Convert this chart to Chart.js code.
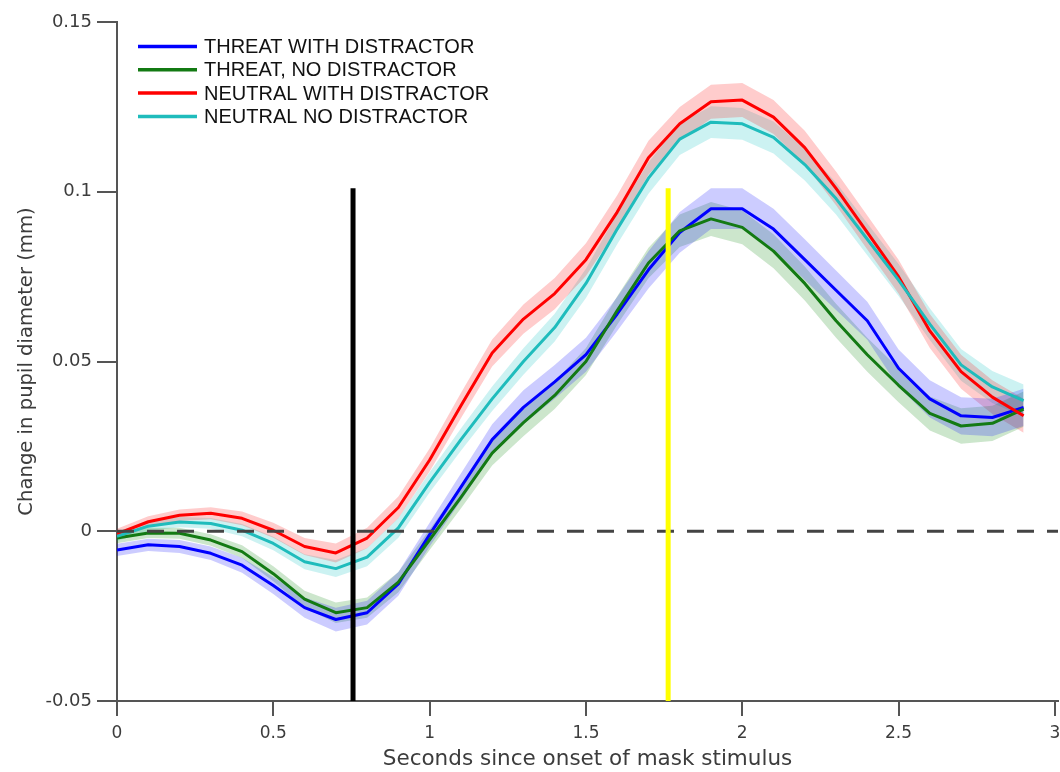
<!DOCTYPE html>
<html>
<head>
<meta charset="utf-8">
<title>Pupil diameter</title>
<script src="https://cdn.jsdelivr.net/npm/chart.js@4.4.1/dist/chart.umd.min.js"></script>
<style>
  body { margin: 0; background: #fff; }
  canvas { display: block; }
</style>
</head>
<body>
<canvas id="pupilChart" width="1060" height="772"></canvas>
<script>
// time axis (s since mask onset), one sample every 100 ms
var times = [0, 0.1, 0.2, 0.3, 0.4, 0.5, 0.6, 0.7, 0.8, 0.9, 1.0, 1.1, 1.2, 1.3, 1.4,
             1.5, 1.6, 1.7, 1.8, 1.9, 2.0, 2.1, 2.2, 2.3, 2.4, 2.5, 2.6, 2.7, 2.8, 2.9];

var seriesNames = ['THREAT WITH DISTRACTOR', 'THREAT, NO DISTRACTOR', 'NEUTRAL WITH DISTRACTOR', 'NEUTRAL NO DISTRACTOR'];

// mean change in pupil diameter (mm)
var threatWith = [-0.0055, -0.004, -0.0045, -0.0065, -0.010, -0.016, -0.0225, -0.026, -0.024, -0.0155,
                  -0.001, 0.013, 0.027, 0.0365, 0.044, 0.052, 0.064, 0.077, 0.088, 0.095,
                  0.095, 0.089, 0.080, 0.071, 0.062, 0.048, 0.039, 0.034, 0.0335, 0.0365];
var threatNo = [-0.002, -0.0005, -0.0006, -0.0026, -0.006, -0.0125, -0.020, -0.024, -0.0225, -0.015,
                -0.0025, 0.010, 0.023, 0.032, 0.040, 0.050, 0.065, 0.079, 0.0885, 0.092,
                0.0895, 0.0825, 0.073, 0.062, 0.052, 0.043, 0.0347, 0.031, 0.0318, 0.036];
var neutralWith = [-0.0008, 0.0028, 0.0047, 0.0053, 0.0038, 0.0003, -0.0045, -0.0064, -0.002, 0.007,
                   0.021, 0.037, 0.0525, 0.0625, 0.070, 0.080, 0.094, 0.110, 0.120, 0.1265,
                   0.127, 0.122, 0.113, 0.101, 0.088, 0.075, 0.059, 0.047, 0.0395, 0.034];
var neutralNo = [-0.0015, 0.0015, 0.0027, 0.0023, 0.0003, -0.0036, -0.009, -0.011, -0.0076, 0.001,
                 0.0144, 0.027, 0.039, 0.050, 0.060, 0.073, 0.089, 0.104, 0.1155, 0.1205,
                 0.120, 0.116, 0.108, 0.098, 0.086, 0.074, 0.061, 0.049, 0.0425, 0.0385];

// half width of the shaded error band
var threatWithSem = [0.0018, 0.0018, 0.0019, 0.002, 0.0022, 0.0025, 0.003, 0.0035, 0.0035, 0.0035,
                     0.0035, 0.004, 0.0045, 0.005, 0.005, 0.005, 0.005, 0.0055, 0.006, 0.006,
                     0.006, 0.006, 0.006, 0.0058, 0.0056, 0.0055, 0.0055, 0.0055, 0.0055, 0.0055];
var threatNoSem = [0.0015, 0.0015, 0.0016, 0.0017, 0.0019, 0.0022, 0.0025, 0.003, 0.003, 0.003,
                   0.003, 0.0033, 0.0036, 0.004, 0.004, 0.004, 0.0042, 0.0045, 0.0048, 0.005,
                   0.005, 0.005, 0.005, 0.005, 0.005, 0.005, 0.005, 0.0052, 0.0052, 0.0052];
var neutralWithSem = [0.0015, 0.0016, 0.0017, 0.0018, 0.002, 0.0022, 0.0025, 0.0028, 0.003, 0.0032,
                      0.0034, 0.0037, 0.004, 0.0043, 0.0046, 0.0048, 0.005, 0.005, 0.005, 0.005,
                      0.005, 0.005, 0.005, 0.005, 0.005, 0.005, 0.005, 0.005, 0.005, 0.005];
var neutralNoSem = [0.0014, 0.0014, 0.0015, 0.0016, 0.0018, 0.002, 0.0022, 0.0025, 0.0027, 0.0029,
                    0.003, 0.0033, 0.0036, 0.0039, 0.0041, 0.0043, 0.0045, 0.0046, 0.0047, 0.0047,
                    0.0047, 0.0047, 0.0047, 0.0047, 0.0047, 0.0047, 0.0047, 0.0047, 0.0047, 0.0047];

// vertical event markers and reference line
var markerTimes = [0.755, 1.763];
var markerTop = 0.101;
var zeroLevel = 0;

var xMin = 0, xMax = 3.01;
var yMin = -0.05, yMax = 0.15;
var xTickValues = [0, 0.5, 1, 1.5, 2, 2.5, 3];
var xTickLabels = ['0', '0.5', '1', '1.5', '2', '2.5', '3'];
var yTickValues = [-0.05, 0, 0.05, 0.1, 0.15];
var yTickLabels = ['-0.05', '0', '0.05', '0.1', '0.15'];

var means = [threatWith, threatNo, neutralWith, neutralNo];
var sems = [threatWithSem, threatNoSem, neutralWithSem, neutralNoSem];
var lineColors = ['#0000ff', '#137a13', '#ff0000', '#1fbcbc'];
var bandColors = ['rgba(0,0,255,0.2)', 'rgba(0,128,0,0.2)', 'rgba(255,0,0,0.2)', 'rgba(0,190,190,0.2)'];

function toPoints(values) {
    return values.map(function (v, i) { return { x: times[i], y: v }; });
}

var datasets = [];

// bands first (upper edge, then lower edge filled to the upper one)
for (var s = 0; s < means.length; s++) {
    datasets.push({
        data: toPoints(means[s].map(function (v, i) { return v + sems[s][i]; })),
        borderWidth: 0, pointRadius: 0, fill: false, order: 10
    });
    datasets.push({
        data: toPoints(means[s].map(function (v, i) { return v - sems[s][i]; })),
        borderWidth: 0, pointRadius: 0, fill: '-1', backgroundColor: bandColors[s], order: 10
    });
}

for (var s = 0; s < means.length; s++) {
    datasets.push({
        label: seriesNames[s],
        data: toPoints(means[s]),
        borderColor: lineColors[s],
        borderWidth: 3,
        borderJoinStyle: 'round',
        pointRadius: 0,
        fill: false,
        order: 4 - s
    });
}

datasets.push({
    data: [{ x: xMin, y: zeroLevel }, { x: xMax, y: zeroLevel }],
    borderColor: '#444',
    borderWidth: 3,
    borderDash: [17, 13],
    pointRadius: 0,
    fill: false,
    order: -1
});

var markerColors = ['#000000', '#ffff00'];
markerTimes.forEach(function (t, i) {
    datasets.push({
        data: [{ x: t, y: yMin }, { x: t, y: markerTop }],
        borderColor: markerColors[i],
        borderWidth: 5,
        pointRadius: 0,
        fill: false,
        order: -2
    });
});

// legend drawn inside the plot, top left
var cornerLegend = {
    id: 'cornerLegend',
    afterDraw: function (chart) {
        var ctx = chart.ctx;
        ctx.save();
        ctx.font = '20px "Liberation Sans", Arial, sans-serif';
        ctx.textBaseline = 'middle';
        seriesNames.forEach(function (name, i) {
            var y = 46.5 + i * 23.3;
            ctx.strokeStyle = lineColors[i];
            ctx.lineWidth = 3.5;
            ctx.beginPath();
            ctx.moveTo(138, y);
            ctx.lineTo(197, y);
            ctx.stroke();
            ctx.fillStyle = '#111';
            ctx.fillText(name, 204, y + 1);
        });
        ctx.restore();
    }
};

Chart.defaults.font.family = '"DejaVu Sans", sans-serif';
Chart.defaults.color = '#3c3c3c';

new Chart(document.getElementById('pupilChart'), {
    type: 'line',
    data: { datasets: datasets },
    plugins: [cornerLegend],
    options: {
        responsive: false,
        animation: false,
        devicePixelRatio: 1,
        layout: { padding: { top: 22, right: 2, left: 0, bottom: 0 } },
        plugins: {
            legend: { display: false },
            tooltip: { enabled: false }
        },
        scales: {
            x: {
                type: 'linear',
                min: xMin,
                max: xMax,
                afterBuildTicks: function (scale) {
                    scale.ticks = xTickValues.map(function (v) { return { value: v }; });
                },
                afterFit: function (scale) {
                    scale.height = 71;
                    scale.paddingLeft = 0;
                    scale.paddingRight = 0;
                },
                ticks: {
                    autoSkip: false,
                    maxRotation: 0,
                    padding: 7,
                    font: { size: 17 },
                    callback: function (v, i) { return xTickLabels[i]; }
                },
                grid: { drawOnChartArea: false, drawTicks: true, tickLength: 15, color: '#555', lineWidth: 2 },
                border: { display: true, color: '#555', width: 2 },
                title: {
                    display: true,
                    text: 'Seconds since onset of mask stimulus',
                    font: { size: 21.5 },
                    color: '#3c3c3c',
                    padding: { top: 0, bottom: 0 }
                }
            },
            y: {
                type: 'linear',
                min: yMin,
                max: yMax,
                afterBuildTicks: function (scale) {
                    scale.ticks = yTickValues.map(function (v) { return { value: v }; });
                },
                afterFit: function (scale) { scale.width = 117; },
                ticks: {
                    autoSkip: false,
                    padding: 5,
                    font: { size: 18 },
                    callback: function (v, i) { return yTickLabels[i]; }
                },
                grid: { drawOnChartArea: false, drawTicks: true, tickLength: 20, color: '#555', lineWidth: 2 },
                border: { display: true, color: '#555', width: 2 },
                title: {
                    display: true,
                    text: 'Change in pupil diameter (mm)',
                    font: { size: 19.6 },
                    color: '#3c3c3c',
                    padding: { top: 15, bottom: 0 }
                }
            }
        }
    }
});
</script>
</body>
</html>
